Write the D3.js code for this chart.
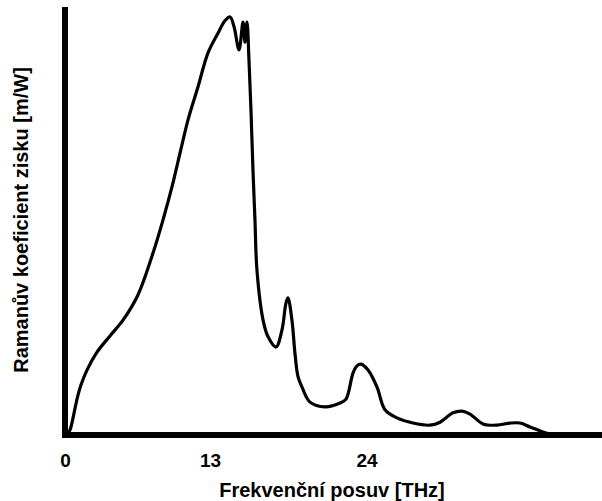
<!DOCTYPE html>
<html>
<head>
<meta charset="utf-8">
<script src="https://cdn.jsdelivr.net/npm/d3@7"></script>
<style>
  body { margin: 0; background: #fff; }
  svg { display: block; font-family: "Liberation Sans", Arial, sans-serif; }
</style>
</head>
<body>
<figure id="raman" style="margin:0"></figure>
<script>
// frequency shift [THz]
const shift = [
  0.18, 0.45, 0.72, 0.90, 1.17, 1.43, 1.97, 2.87, 4.03, 5.20,
  6.54, 7.89, 8.79, 9.59, 10.31, 11.03, 11.92, 12.82, 13.56, 14.05,
  14.41, 14.69, 15.04, 15.32, 15.46, 15.60, 15.74, 15.88, 16.02, 16.16,
  16.30, 16.73, 17.08, 17.64, 18.06, 18.34, 18.48, 18.76, 18.97, 19.19,
  19.47, 20.03, 21.08, 22.14, 22.56, 23.05, 23.33, 23.61, 24.11, 24.74,
  25.30, 26.14, 27.27, 28.46, 29.17, 30.08, 30.71, 31.28, 32.19, 33.17,
  34.09, 34.79, 35.49, 36.40, 36.90
];
// raman gain (arbitrary units)
const gain = [
  0.00, 0.12, 0.40, 0.63, 0.94, 1.17, 1.52, 1.94, 2.32, 2.69,
  3.28, 4.26, 5.04, 5.81, 6.60, 7.38, 8.15, 8.95, 9.41, 9.70,
  9.79, 9.56, 9.02, 9.67, 9.20, 9.67, 8.78, 7.61, 6.21, 5.04,
  3.86, 2.69, 2.30, 2.06, 2.46, 3.09, 3.21, 2.69, 1.92, 1.36,
  1.12, 0.77, 0.66, 0.75, 0.84, 1.45, 1.62, 1.66, 1.52, 1.12,
  0.59, 0.40, 0.28, 0.23, 0.30, 0.52, 0.56, 0.49, 0.26, 0.23,
  0.28, 0.28, 0.19, 0.07, 0.02
];
const tickValues = [0, 13, 24];
const tickLabels = ["0", "13", "24"];
const xTitle = "Frekvenční posuv [THz]";
const yTitle = "Ramanův koeficient zisku [m/W]";

const W = 602, H = 501;
const plotLeft = 65, plotRight = 602, plotTop = 7, plotBottom = 435;

const svg = d3.select("figure#raman")
  .append("svg")
  .attr("width", W)
  .attr("height", H);

// the original axis is hand-drawn, tick spacing is not uniform
const x = d3.scaleLinear()
  .domain(tickValues)
  .range([plotLeft, 210, 366.5]);

const y = d3.scaleLinear()
  .domain([0, 10])
  .range([plotBottom, 8]);

// curve
const points = shift.map((s, i) => [s, gain[i]]);
svg.append("path")
  .datum(points)
  .attr("fill", "none")
  .attr("stroke", "#000")
  .attr("stroke-width", 3.2)
  .attr("stroke-linejoin", "round")
  .attr("d", d3.line()
    .x(d => x(d[0]))
    .y(d => y(d[1]))
    .curve(d3.curveCatmullRom.alpha(0.5)));

// axes lines
svg.append("line")
  .attr("x1", plotLeft).attr("x2", plotLeft)
  .attr("y1", plotTop).attr("y2", plotBottom + 3)
  .attr("stroke", "#000").attr("stroke-width", 6);
svg.append("line")
  .attr("x1", plotLeft - 3).attr("x2", plotRight)
  .attr("y1", plotBottom).attr("y2", plotBottom)
  .attr("stroke", "#000").attr("stroke-width", 6);

// x ticks
const xAxis = svg.append("g")
  .attr("transform", "translate(0," + plotBottom + ")")
  .call(d3.axisBottom(x)
    .tickValues(tickValues)
    .tickFormat((d, i) => tickLabels[i])
    .tickSize(0)
    .tickPadding(32));
xAxis.select(".domain").remove();
xAxis.selectAll("text")
  .attr("dy", null)
  .attr("fill", "#000")
  .style("font-family", "'Liberation Sans', Arial, sans-serif")
  .style("font-size", "19px")
  .style("font-weight", "bold");

// titles
svg.append("text")
  .attr("x", 332)
  .attr("y", 497)
  .attr("text-anchor", "middle")
  .style("font-size", "20px")
  .style("font-weight", "bold")
  .text(xTitle);

svg.append("text")
  .attr("transform", "translate(28,220) rotate(-90)")
  .attr("text-anchor", "middle")
  .style("font-size", "20px")
  .style("font-weight", "bold")
  .text(yTitle);
</script>
</body>
</html>
